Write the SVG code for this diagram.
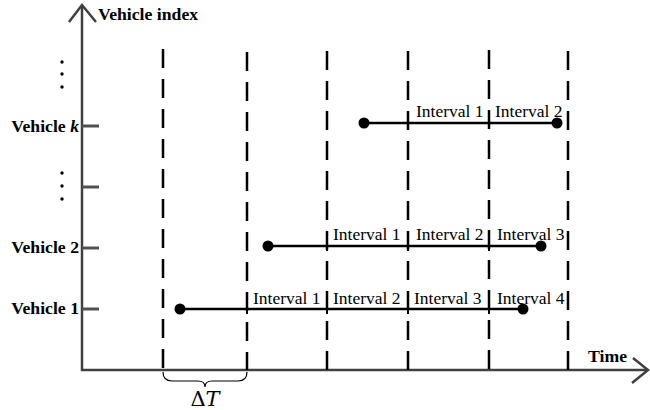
<svg xmlns="http://www.w3.org/2000/svg" width="650" height="410" viewBox="0 0 650 410">
<style>
.axis{stroke:#404040;stroke-width:2.5;fill:none}
.tick{stroke:#505050;stroke-width:3}
.dash{stroke:#000;stroke-width:2.5;stroke-dasharray:19 11}
.veh{stroke:#000;stroke-width:2.5}
.cross{stroke:#000;stroke-width:2}
.lab{font-family:"Liberation Serif",serif;font-weight:bold;font-size:17.7px;fill:#000}
.iv{font-family:"Liberation Serif",serif;font-size:17.5px;fill:#000}
.dot{fill:#000}
</style>
<rect width="650" height="410" fill="#fff"/>
<g id="axes">
<line class="axis" x1="82" y1="371" x2="82" y2="6"/>
<polyline class="axis" points="69,22 82,5 96,22" stroke-width="1.5"/>
<line class="axis" x1="81" y1="370" x2="647" y2="370"/>
<polyline class="axis" points="633,358 648,370 632,383" stroke-width="1.5"/>
<line class="tick" x1="82" y1="126" x2="99" y2="126"/>
<line class="tick" x1="82" y1="187" x2="99" y2="187"/>
<line class="tick" x1="82" y1="248" x2="99" y2="248"/>
<line class="tick" x1="82" y1="309" x2="99" y2="309"/>
<text class="lab" x="98" y="20">Vehicle index</text>
<text class="lab" x="627" y="362" text-anchor="end">Time</text>
<text class="lab" x="79" y="132" text-anchor="end">Vehicle <tspan font-style="italic">k</tspan></text>
<text class="lab" x="79" y="253" text-anchor="end">Vehicle 2</text>
<text class="lab" x="79" y="314" text-anchor="end">Vehicle 1</text>
<circle class="dot" cx="62" cy="62" r="1.7"/>
<circle class="dot" cx="62" cy="74" r="1.7"/>
<circle class="dot" cx="62" cy="87" r="1.7"/>
<circle class="dot" cx="62" cy="173" r="1.7"/>
<circle class="dot" cx="62" cy="186" r="1.7"/>
<circle class="dot" cx="62" cy="199" r="1.7"/>
</g>
<g id="dashes">
<line class="dash" x1="163" y1="49" x2="163" y2="370"/>
<line class="dash" x1="247" y1="52" x2="247" y2="370"/>
<line class="dash" x1="327" y1="51" x2="327" y2="370"/>
<line class="dash" x1="408" y1="51" x2="408" y2="370"/>
<line class="dash" x1="489" y1="50" x2="489" y2="370"/>
<line class="dash" x1="568" y1="51" x2="568" y2="370"/>
</g>
<g id="brace">
<path d="M163,372 Q163,381 172,381 L198,381 Q205,381 205,387 Q205,381 212,381 L238,381 Q247,381 247,372" fill="none" stroke="#000" stroke-width="1.2"/>
<text x="205" y="406" text-anchor="middle" font-family="'DejaVu Serif','Liberation Serif',serif" font-size="21px">Δ<tspan font-style="italic">T</tspan></text>
</g>
<g id="vehicle1">
<line class="veh" x1="180" y1="309" x2="523" y2="309"/>
<circle class="dot" cx="180" cy="309" r="5.5"/>
<circle class="dot" cx="523" cy="309" r="5.5"/>
<path class="cross" d="M247,302V314M327,302V314M408,302V314M489,302V314"/>
<text class="iv" x="253" y="304">Interval 1</text>
<text class="iv" x="333" y="304">Interval 2</text>
<text class="iv" x="414" y="304">Interval 3</text>
<text class="iv" x="497" y="304">Interval 4</text>
</g>
<g id="vehicle2">
<line class="veh" x1="268" y1="246" x2="541" y2="246"/>
<circle class="dot" cx="268" cy="246" r="5.5"/>
<circle class="dot" cx="541" cy="246" r="5.5"/>
<path class="cross" d="M327,239V251M408,239V251M489,239V251"/>
<text class="iv" x="333" y="240">Interval 1</text>
<text class="iv" x="416" y="240">Interval 2</text>
<text class="iv" x="497" y="240">Interval 3</text>
</g>
<g id="vehiclek">
<line class="veh" x1="364" y1="123" x2="557" y2="123"/>
<circle class="dot" cx="364" cy="123" r="5.5"/>
<circle class="dot" cx="557" cy="123" r="5.5"/>
<path class="cross" d="M408,116V128M489,116V128"/>
<text class="iv" x="416" y="117">Interval 1</text>
<text class="iv" x="495" y="117">Interval 2</text>
</g>
</svg>
